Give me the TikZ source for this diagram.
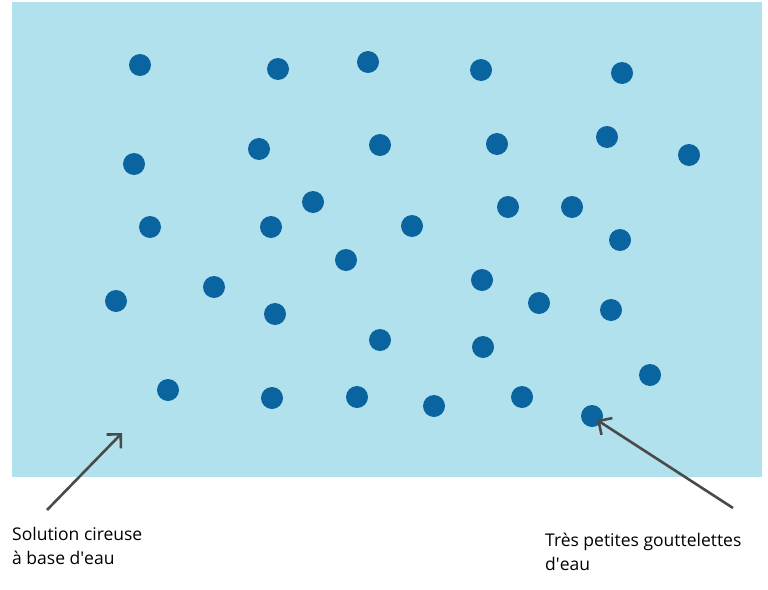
\documentclass[tikz,border=0pt]{standalone}
\usepackage{fontspec}
\setmainfont{Open Sans}
\usetikzlibrary{arrows.meta}
\definecolor{bgblue}{HTML}{B2E1EE}
\definecolor{dotblue}{HTML}{0A64A0}
\definecolor{arrowgray}{HTML}{4A4A4A}
\tikzset{
  drop/.style={circle, fill=dotblue, minimum size=22pt, inner sep=0pt},
  label/.style={anchor=north west, align=left, font=\fontsize{17.5}{24}\selectfont, inner sep=0pt},
  pointer/.style={arrowgray, line width=2.6pt, -{Straight Barb[length=10pt,width=20pt]}}
}
\begin{document}
\begin{tikzpicture}[x=1pt, y=-1pt]
            \useasboundingbox (0,0) rectangle (768,589);
            % Background
            \fill[bgblue] (12,2) rectangle (762,477);

            % Droplets
            \foreach \x/\y [count=\i] in {140/65, 278/69, 368/62, 481/70, 622/73,
                134/164, 259/149, 380/145, 497/144, 607/137, 689/155,
                150/227, 271/227, 313/202, 412/226, 508/207, 572/207, 620/240,
                346/260, 482/280,
                116/301, 214/287, 275/314, 539/303, 611/310,
                380/340, 483/347,
                168/390, 272/398, 357/397, 434/406, 522/397, 592/416, 650/375}
                \node[drop] (d\i) at (\x,\y) {};

            % Labels
            \node[label] (solution) at (12,527) {Solution cireuse\\à base d\textquotesingle eau};
            \node[label] (gouttes) at (545,533) {Très petites gouttelettes\\d\textquotesingle eau};

            % Arrows
            \coordinate (solstart) at (47,510);
            \coordinate (solend) at (122,433);
            \coordinate (goutstart) at (733,508);
            \coordinate (goutend) at (597,420);
            \draw[pointer] (solstart) -- (solend);
            \draw[pointer] (goutstart) -- (goutend);
        \end{tikzpicture}
\end{document}
